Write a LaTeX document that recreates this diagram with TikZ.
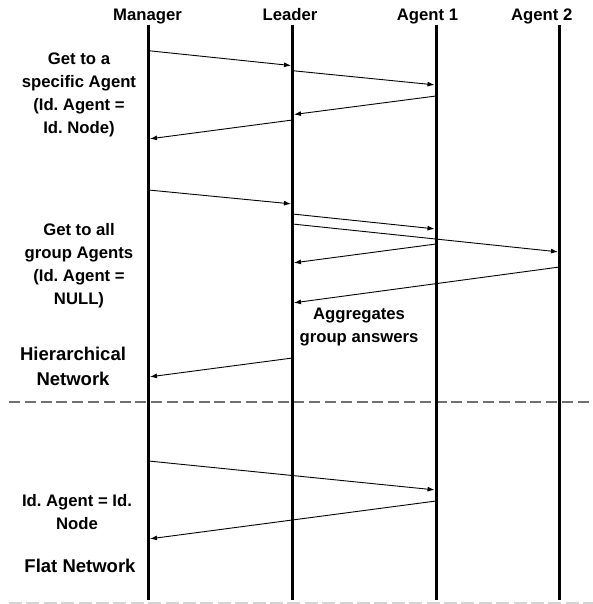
\documentclass[tikz,border=0pt]{standalone}
\usepackage{fontspec}
\setmainfont{Liberation Sans}
\usetikzlibrary{arrows.meta}
\definecolor{sepdark}{RGB}{112,112,112}
\definecolor{seplight}{RGB}{212,212,212}
\frenchspacing
\begin{document}
\begin{tikzpicture}[x=1pt,y=-1pt,
  lifeline/.style={line width=3pt},
  msg/.style={line width=0.9pt,-{Latex[length=7pt,width=5pt]},shorten >=1.5pt},
  hdr/.style={font=\fontsize{16.7}{20}\selectfont\bfseries,inner sep=0pt,anchor=base},
  lbl/.style={font=\fontsize{16.7}{23}\selectfont\bfseries,align=center,inner sep=0pt,anchor=north},
  biglbl/.style={font=\fontsize{18.5}{24.5}\selectfont\bfseries,align=center,inner sep=0pt,anchor=north},
  sepline/.style={line width=1.5pt,dash pattern=on 11pt off 4.8pt}]
\useasboundingbox (0,0) rectangle (593,604);

% section separators
\coordinate (sepAl) at (9,402);   \coordinate (sepAr) at (593,402);
\coordinate (sepBl) at (9,603);   \coordinate (sepBr) at (593,603);
\draw[sepline,sepdark] (sepAl) -- (sepAr);
\draw[sepline,seplight,dash pattern=on 13pt off 4.4pt] (sepBl) -- (sepBr);

% participants
\node[hdr] (hM)  at (147.5,20.6) {Manager};
\node[hdr] (hL)  at (290,20.6)   {Leader};
\node[hdr] (hA1) at (427.5,20.6) {Agent 1};
\node[hdr] (hA2) at (541.7,20.6) {Agent 2};

% lifelines
\coordinate (Mt)  at (148.5,25); \coordinate (Mb)  at (148.5,600);
\coordinate (Lt)  at (292.5,25); \coordinate (Lb)  at (292.5,600);
\coordinate (A1t) at (436,25);   \coordinate (A1b) at (436,600);
\coordinate (A2t) at (559.5,25); \coordinate (A2b) at (559.5,600);
\draw[lifeline] (Mt) -- (Mb);
\draw[lifeline] (Lt) -- (Lb);
\draw[lifeline] (A1t) -- (A1b);
\draw[lifeline] (A2t) -- (A2b);

% messages: number / start x / start y / end x / end y
\foreach \n/\xs/\ys/\xe/\ye in {
   1/148.5/50.7/292.5/65.7,
   2/292.5/70.7/436/85,
   3/436/96/292.5/114.7,
   4/292.5/120/148.5/139,
   5/148.5/190/292.5/204,
   6/292.5/214/436/229,
   7/292.5/224/559.5/252,
   8/436/244/292.5/263,
   9/559.5/267/292.5/303,
  10/292.5/358/148.5/377,
  11/148.5/461/436/490,
  12/436/501/148.5/539}{
  \coordinate (ms\n) at (\xs,\ys);
  \coordinate (me\n) at (\xe,\ye);
  \draw[msg] (ms\n) -- (me\n);
}

% annotations
\node[lbl] (t1) at (79,53) {Get to a\\specific Agent\\(Id. Agent =\\Id. Node)};
\node[lbl] (t2) at (79,223) {Get to all\\group Agents\\(Id. Agent =\\NULL)};
\node[lbl] (t3) at (359,308) {Aggregates\\group answers};
\node[biglbl] (t4) at (73,347) {Hierarchical\\Network};
\node[lbl] (t5) at (77,494) {Id. Agent = Id.\\Node};
\node[biglbl] (t6) at (80,559) {Flat Network};
\end{tikzpicture}
\end{document}
